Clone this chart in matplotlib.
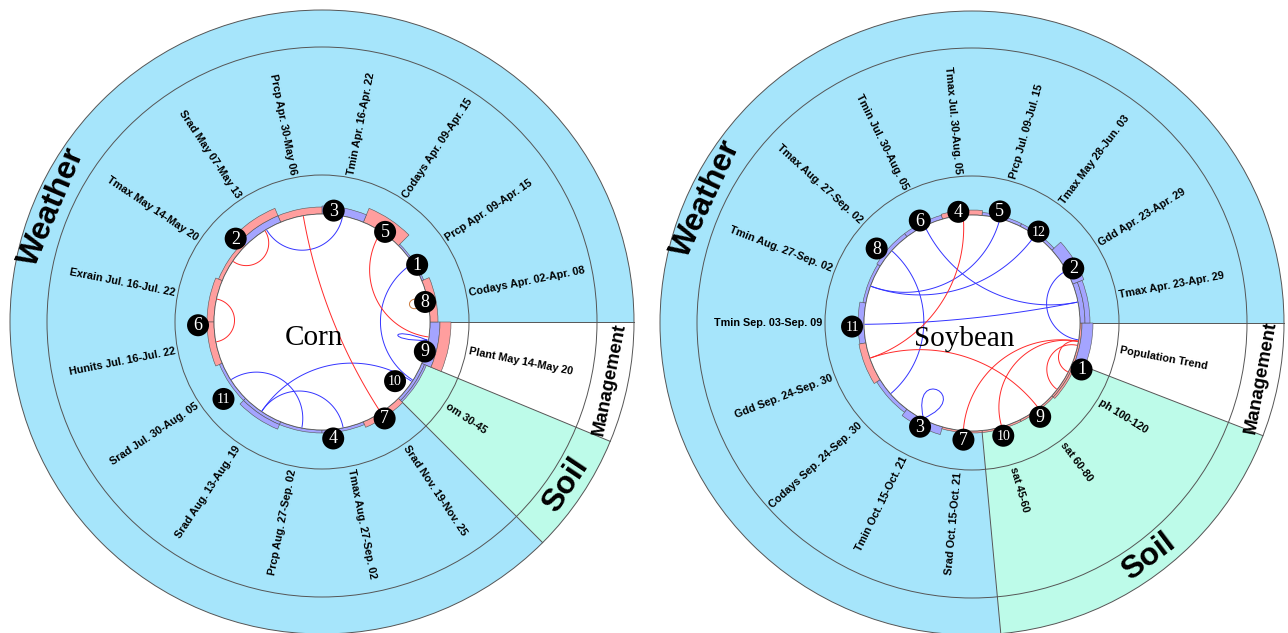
import numpy as np
import matplotlib

matplotlib.use("Agg")
import matplotlib.pyplot as plt
from matplotlib.patches import Wedge, Circle, PathPatch
from matplotlib.path import Path

W, H = 1288, 633

# ── palette ──────────────────────────────────────────────────────────────────
SKY = "#a6e5fb"
MINT = "#bdfbe9"
PINK = "#ff9e9e"
LAV = "#a4a4ff"
EDGE = "#555555"
RED = "#ff2a2a"
BLU = "#3434ff"
ORG = "#cc7a3c"

R_IN, R_LAB, R_TXT, R_OUT = 108, 147, 275, 312

# ── corn ─────────────────────────────────────────────────────────────────────
corn_items = ["om 30-45", "Plant May 14-May 20",
              "Codays Apr. 02-Apr. 08", "Prcp Apr. 09-Apr. 15",
              "Codays Apr. 09-Apr. 15", "Tmin Apr. 16-Apr. 22",
              "Prcp Apr. 30-May 06", "Srad May 07-May 13",
              "Tmax May 14-May 20", "Exrain Jul. 16-Jul. 22",
              "Hunits Jul. 16-Jul. 22", "Srad Jul. 30-Aug. 05",
              "Srad Aug. 13-Aug. 19", "Prcp Aug. 27-Sep. 02",
              "Tmax Aug. 27-Sep. 02", "Srad Nov. 19-Nov. 25"]
corn_groups = [("Soil", 1), ("Management", 1), ("Weather", 14)]
# stacked bar values per item (+ pink, - blue)
corn_bars = [[-3, -2], [-10, 11], [8], [-2], [15], [-8], [7], [-7, 8],
             [4], [7], [7], [-3], [-3, -5], [-3], [-3], [6]]
corn_node_ang = [31, 136, 84, -84.5, 55, 181.5, -57, 11, -16, -39, -142]
corn_node_r = [111, 120, 112, 117, 110, 124, 115, 105, 107, 94, 125]
corn_links = [(121, 79, "b"), (-147.6, -100.8, "b"), (-124, -33.5, "b"),
              (-124, -78.7, "b"), (32.8, -32.6, "b"),
              (145.7, 122, "r"), (100, -57, "r"), (56.7, -8, "r"),
              (167.7, 190.6, "r")]
corn_loops = [(11, "o", 29, 35), (-9.8, "b", 41, 12)]

# ── soybean ──────────────────────────────────────────────────────────────────
soy_items = ["sat 45-60", "sat 60-80", "ph 100-120", "Population Trend",
             "Tmax Apr. 23-Apr. 29", "Gdd Apr. 23-Apr. 29",
             "Tmax May 28-Jun. 03", "Prcp Jul. 09-Jul. 15",
             "Tmax Jul. 30-Aug. 05", "Tmin Jul. 30-Aug. 05",
             "Tmax Aug. 27-Sep. 02", "Tmin Aug. 27-Sep. 02",
             "Tmin Sep. 03-Sep. 09", "Gdd Sep. 24-Sep. 30",
             "Codays Sep. 24-Sep. 30", "Tmin Oct. 15-Oct. 21",
             "Srad Oct. 15-Oct. 21"]
soy_groups = [("Soil", 3), ("Management", 1), ("Weather", 13)]
soy_bars = [[2], [2], [2, 2], [2, -11], [-5, -5], [-12], [-3], [-3], [5],
            [-4], [-4], [-3], [-6], [7], [-4], [-8], [2]]
soy_node_ang = [-23, 28.3, 243.4, 97, 76, 117, 265.8, 142, -54, -74.5,
                181.7, 54]
soy_node_r = [119, 115, 116, 112, 115, 115, 117, 121, 116, 117, 120, 113]
soy_links = [(75, 160, "b"), (54.3, 160, "b"), (116, 11.2, "b"),
             (180.7, 11.2, "b"), (138, 221, "b"), (29, -9, "b"),
             (94.7, 199, "r"), (199, -52, "r"), (-9.8, 265.4, "r"),
             (-9.8, -74, "r"), (-9.8, -27, "r"), (-12, -38, "r")]
soy_loops = [(243, "b", 55, 40)]

LINK_COL = {"r": RED, "b": BLU, "o": ORG}
GROUP_COL = {"Soil": MINT, "Management": "white", "Weather": SKY}
GROUP_SIZE = {"Soil": 23, "Management": 13.5, "Weather": 23}


def pol(c, r, a):
    t = np.deg2rad(a)
    return c[0] + r * np.cos(t), c[1] + r * np.sin(t)


def geodesic(c, a1, a2, R):
    t1, t2 = np.deg2rad([a1, a2])
    p1 = np.array([np.cos(t1), np.sin(t1)])
    p2 = np.array([np.cos(t2), np.sin(t2)])
    d = np.arccos(np.clip(p1 @ p2, -1, 1))
    if np.pi - d < 0.06:
        pts = np.array([p1, p2])
    else:
        m = (p1 + p2) / np.linalg.norm(p1 + p2)
        cc = m / np.cos(d / 2)
        rr = np.tan(d / 2)
        f1 = np.arctan2(*(p1 - cc)[::-1])
        f2 = np.arctan2(*(p2 - cc)[::-1])
        df = (f2 - f1 + np.pi) % (2 * np.pi) - np.pi
        f = f1 + np.linspace(0, 1, 120) * df
        pts = cc + rr * np.c_[np.cos(f), np.sin(f)]
    return np.asarray(c) + R * pts


def draw_chart(ax, c, items, groups, bars, node_ang, node_r, links, loops,
               title, weather_ang):
    n = len(items)
    step = 360 / n
    start = -(groups[0][1] + groups[1][1]) * step

    # sectors
    a = start
    for name, k in groups:
        a2 = a + k * step
        ax.add_patch(Wedge(c, R_OUT, a, a2, width=R_OUT - R_IN,
                           fc=GROUP_COL[name], ec="none", zorder=1))
        p0, p1 = pol(c, R_IN, a), pol(c, R_OUT, a)
        ax.plot([p0[0], p1[0]], [p0[1], p1[1]], color=EDGE, lw=0.7, zorder=2)
        mid = weather_ang if name == "Weather" else (a + a2) / 2
        rot = mid - 90 if 0 <= mid % 360 <= 180 else mid + 90
        x, y = pol(c, (R_TXT + R_OUT) / 2, mid)
        ax.text(x, y, name, rotation=rot, ha="center", va="center",
                fontsize=GROUP_SIZE[name], fontweight="bold",
                family="Liberation Sans", zorder=3)
        a = a2

    for r in (R_LAB, R_TXT, R_OUT):
        ax.add_patch(Circle(c, r, fill=False, ec=EDGE, lw=0.7, zorder=2))

    # item labels
    for i, lab in enumerate(items):
        a = (start + (i + 0.5) * step) % 360
        x, y = pol(c, R_LAB + 3, a)
        if 90 < a < 270:
            rot, ha = a - 180, "right"
        else:
            rot, ha = (a if a <= 90 else a - 360), "left"
        ax.text(x, y, lab, rotation=rot, rotation_mode="anchor", ha=ha,
                va="center", fontsize=7.8, fontweight="bold",
                family="Liberation Sans", zorder=3)

    # bars
    for i, vals in enumerate(bars):
        a0 = start + i * step
        r0 = R_IN
        for v in vals:
            h = abs(v)
            ax.add_patch(Wedge(c, r0 + h, a0, a0 + step, width=h,
                               fc=PINK if v > 0 else LAV, ec=EDGE, lw=0.4,
                               zorder=4))
            r0 += h

    ax.add_patch(Circle(c, R_IN, fc="white", ec=EDGE, lw=0.6, zorder=4))

    # links
    for a1, a2, col in links:
        pts = geodesic(c, a1, a2, R_IN - 1)
        ax.plot(pts[:, 0], pts[:, 1], color=LINK_COL[col], lw=0.7, zorder=5)
    for a, col, L, s in loops:
        p = np.array(pol(c, R_IN - 1, a))
        t = np.deg2rad(a) + np.pi
        s = np.deg2rad(s)
        q1 = p + L * np.array([np.cos(t + s), np.sin(t + s)])
        q2 = p + L * np.array([np.cos(t - s), np.sin(t - s)])
        path = Path([p, q1, q2, p], [Path.MOVETO, Path.CURVE4, Path.CURVE4,
                                     Path.CURVE4])
        ax.add_patch(PathPatch(path, fc="none", ec=LINK_COL[col], lw=0.7,
                               zorder=5))

    # numbered nodes
    for k, (a, r) in enumerate(zip(node_ang, node_r), start=1):
        x, y = pol(c, r, a)
        ax.add_patch(Circle((x, y), 11, fc="black", ec="none", zorder=6))
        ax.text(x, y - 0.5, str(k), color="white", ha="center",
                va="center", fontsize=13 if k < 10 else 10,
                family="Liberation Serif", zorder=7)

    ax.text(c[0] - 8, c[1] - 16, title, ha="center", va="center",
            fontsize=21, family="Liberation Serif", zorder=6)


fig = plt.figure(figsize=(W / 100, H / 100), dpi=100)
ax = fig.add_axes([0, 0, 1, 1])
ax.set_xlim(0, W)
ax.set_ylim(0, H)
ax.set_aspect("equal")
ax.axis("off")

draw_chart(ax, (322, 311), corn_items, corn_groups, corn_bars, corn_node_ang,
           corn_node_r, corn_links, corn_loops, "Corn", 157)
draw_chart(ax, (972, 310), soy_items, soy_groups, soy_bars, soy_node_ang,
           soy_node_r, soy_links, soy_loops, "Soybean", 155)

fig.savefig("out.png", dpi=100, facecolor="white")
